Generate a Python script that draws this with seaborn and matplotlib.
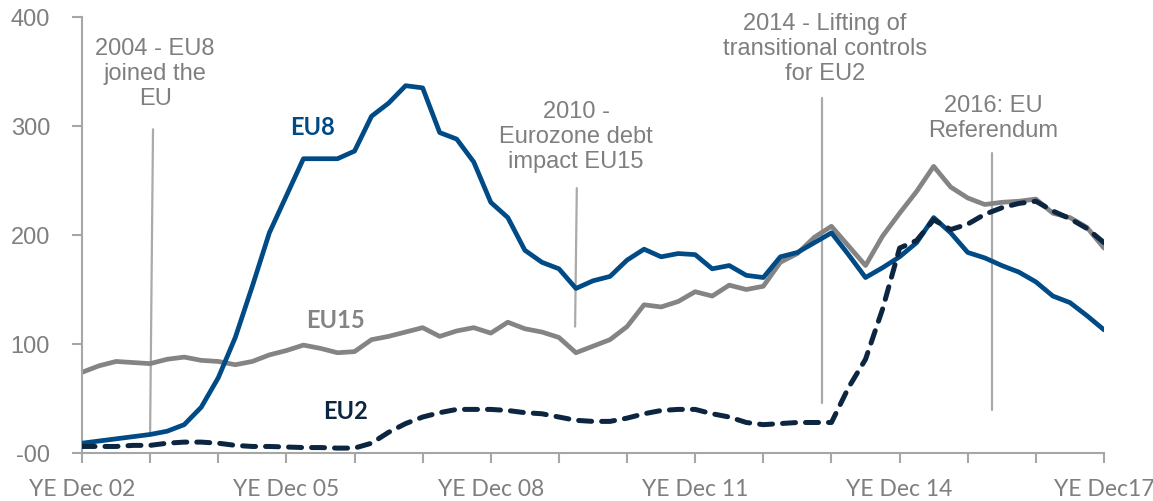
import matplotlib
matplotlib.use("Agg")
import matplotlib.pyplot as plt
import seaborn as sns

# quarterly points, YE Dec 02 .. YE Dec 17
quarters = list(range(61))

eu8 = [9, 11, 13, 15, 17, 20, 26, 42, 69, 106, 153, 202,
       236, 270, 270, 270, 277, 309, 321, 337, 335, 294, 288, 267,
       230, 216, 186, 175, 169, 151, 158, 162, 177, 187, 180, 183,
       182, 169, 172, 163, 161, 180, 184, 193, 202, 182, 161, 170,
       180, 193, 216, 202, 184, 179, 172, 166, 157, 144, 138, 126, 113]

eu15 = [74, 80, 84, 83, 82, 86, 88, 85, 84, 81, 84, 90,
        94, 99, 96, 92, 93, 104, 107, 111, 115, 107, 112, 115,
        110, 120, 114, 111, 106, 92, 98, 104, 116, 136, 134, 139,
        148, 144, 154, 150, 153, 175, 183, 198, 208, 190, 172, 199,
        220, 240, 263, 244, 234, 228, 230, 231, 233, 220, 216, 207, 188]

eu2 = [6, 6, 6, 7, 7, 9, 10, 10, 9, 7, 6, 6,
       5.5, 5, 5, 4.5, 4.5, 9, 19, 27, 33, 37, 40, 40,
       40, 39, 37, 36, 33, 30, 29, 29, 32, 36, 39, 40,
       40, 36, 33, 28, 26, 27, 28, 28, 28, 60, 86, 132,
       188, 195, 214, 205, 210, 219, 225, 229, 231, 222, 215, 206, 193]

x_tick_pos = list(range(0, 61, 4))
x_tick_labels = ['YE Dec 02', '', '', 'YE Dec 05', '', '', 'YE Dec 08', '', '',
                 'YE Dec 11', '', '', 'YE Dec 14', '', '', 'YE Dec17']
y_tick_pos = [0, 100, 200, 300, 400]
y_tick_labels = ['-00', '100', '200', '300', '400']

# callouts: text, text x, text y, line x top/bottom, line y top/bottom
events = [
    ('2004 - EU8\njoined the\nEU', 4.3, 348, (4.17, 4.0), (297, 18)),
    ('2010 -\nEurozone debt\nimpact EU15', 29.0, 290, (29.05, 28.95), (243, 116)),
    ('2014 - Lifting of\ntransitional controls\nfor EU2', 43.6, 371, (43.45, 43.45), (326, 46)),
    ('2016: EU\nReferendum', 53.5, 307, (53.4, 53.4), (275, 39)),
]

blue = '#004a85'
grey = '#848484'
navy = '#0c2540'
axis_grey = '#a6a6a6'
text_grey = '#7f7f7f'

sns.set_style('white')
plt.rcParams['font.family'] = ['Liberation Sans', 'DejaVu Sans']

fig, ax = plt.subplots(figsize=(11.53, 5.01), dpi=100)
fig.subplots_adjust(left=0.0711, right=0.9575, bottom=0.0958, top=0.966)

for xs, ys in [(e[3], e[4]) for e in events]:
    ax.plot(xs, ys, color='#aaaaaa', lw=1.6, zorder=1)

sns.lineplot(x=quarters, y=eu15, color=grey, lw=3.4, ax=ax, zorder=2)
sns.lineplot(x=quarters, y=eu8, color=blue, lw=3.4, ax=ax, zorder=3)
sns.lineplot(x=quarters, y=eu2, color=navy, lw=3.6, ax=ax, zorder=4)
l2 = ax.lines[-1]
l2.set_dashes((2.6, 2.0))
l2.set_dash_capstyle('round')

for txt, tx, ty, _, _ in events:
    ax.text(tx, ty, txt, ha='center', va='center', ma='center',
            fontsize=17, color=text_grey, linespacing=1.17)

lab_font = ['Lato', 'DejaVu Sans']
ax.text(13.56, 299, 'EU8', color=blue, fontsize=17, fontweight='bold',
        family=lab_font, ha='center', va='center')
ax.text(14.86, 122, 'EU15', color=grey, fontsize=17, fontweight='bold',
        family=lab_font, ha='center', va='center')
ax.text(15.5, 38.5, 'EU2', color=navy, fontsize=17, fontweight='bold',
        family=lab_font, ha='center', va='center')

ax.set_xlim(0, 60)
ax.set_ylim(0, 400)
ax.set_xticks(x_tick_pos)
ax.set_xticklabels(x_tick_labels, family=lab_font, fontsize=16.5, color=text_grey)
ax.set_yticks(y_tick_pos)
ax.set_yticklabels(y_tick_labels, fontsize=17, color=text_grey)
ax.tick_params(axis='x', length=7, width=1.5, color=axis_grey, pad=12, direction='out')
ax.tick_params(axis='y', length=7, width=1.5, color=axis_grey, pad=16, direction='out')
ax.tick_params(bottom=True, left=True)

for side in ['top', 'right']:
    ax.spines[side].set_visible(False)
for side in ['left', 'bottom']:
    ax.spines[side].set_color(axis_grey)
    ax.spines[side].set_linewidth(1.5)
ax.set_xlabel('')
ax.set_ylabel('')

fig.savefig('out.png', dpi=100)
